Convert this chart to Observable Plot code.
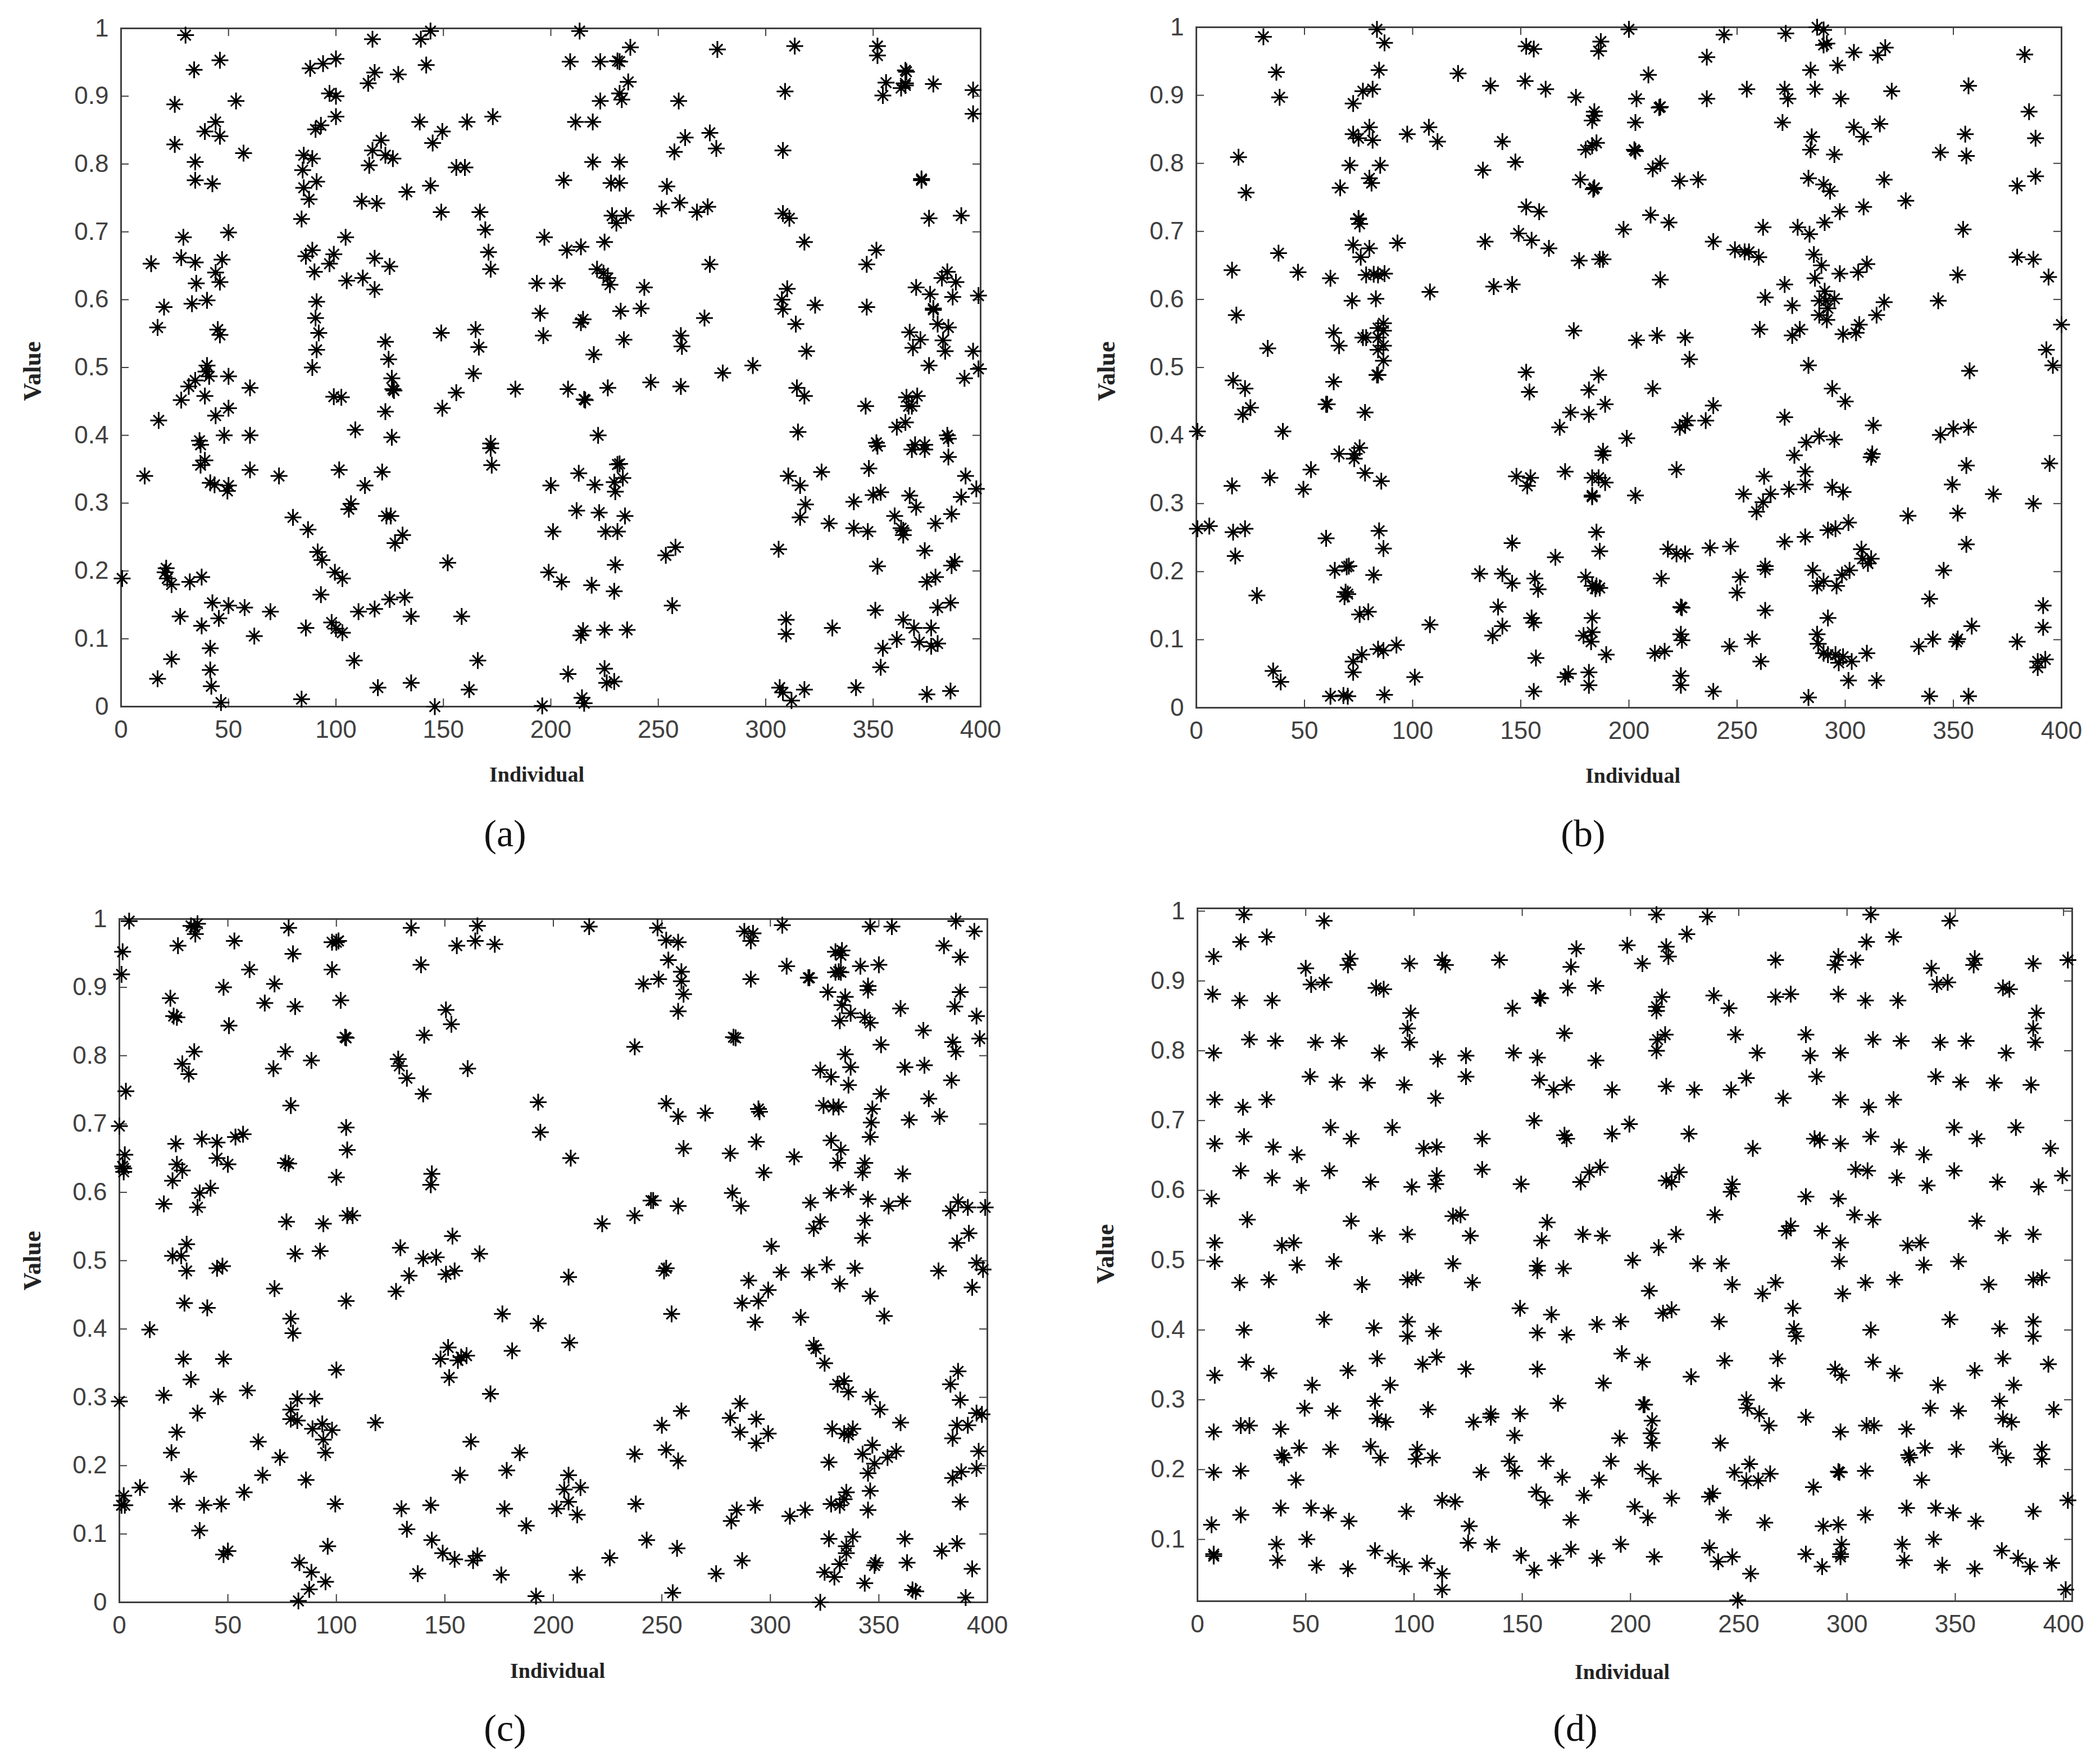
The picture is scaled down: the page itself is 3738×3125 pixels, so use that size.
<!DOCTYPE html>
<html><head><meta charset="utf-8">
<script src="https://cdn.jsdelivr.net/npm/d3@7"></script>
<script src="https://cdn.jsdelivr.net/npm/@observablehq/plot@0.6"></script>
<style>
html,body{margin:0;padding:0;background:#fff}
#page{position:relative;width:3738px;height:3125px;background:#fff;overflow:hidden}
.panel{position:absolute}
.cap{position:absolute;font-family:"Liberation Serif",serif;font-size:68px;color:#111;transform:translate(-50%,-50%);line-height:1}
svg{overflow:visible}
</style></head><body><div id="page"></div>
<script>
const xTicks=[0,50,100,150,200,250,300,350,400];
const yTicks=[0,0.1,0.2,0.3,0.4,0.5,0.6,0.7,0.8,0.9,1];
const yTicksD=[0.1,0.2,0.3,0.4,0.5,0.6,0.7,0.8,0.9,1];
const xLabel="Individual";
const yLabel="Value";
const captions=["(a)","(b)","(c)","(d)"];

const pointsA=[[30,.99],[46,.953],[34,.939],[25,.888],[53.5,.893],[44,.862],[39,.848],[46,.841],[25,.829],[57,.816],[34.5,.803],[34.5,.776],[42.5,.771],[29,.692],[50,.699],[14,.653],[28,.662],[34.5,.655],[47,.659],[44,.64],[46,.626],[35,.624],[20,.589],[33,.594],[40,.599],[17,.559],[45,.556],[46,.548],[40,.503],[39.5,.494],[41,.487],[34.5,.481],[31.5,.472],[50,.487],[60,.47],[39,.458],[28,.452],[50,.44],[44,.429],[17.5,.422],[48,.4],[60,.4],[36.5,.392],
[88,.941],[94,.948],[100,.955],[97,.904],[100,.9],[100,.87],[93,.857],[90.5,.851],[85,.813],[89,.808],[84.5,.791],[91,.774],[85,.765],[87.5,.748],[84,.719],[104.5,.692],[89,.673],[86,.664],[99,.667],[97,.653],[90,.641],[105,.628],[112.5,.632],[118,.615],[118,.661],[125,.649],[91,.597],[90.5,.573],[92,.551],[91,.526],[89,.5],[99,.457],[102.5,.456],[109,.408],
[117,.984],[139.5,.984],[144,.996],[142,.946],[118,.935],[115,.919],[129,.932],[139,.862],[149.5,.848],[145,.831],[161,.862],[173,.87],[121,.835],[117,.82],[123,.813],[126.5,.808],[115.5,.798],[156,.795],[160,.795],[144,.768],[133,.759],[112,.745],[119,.742],[149,.729],[167,.729],[169.5,.703],[171,.67],[172,.645],[149,.551],[165,.556],[166.5,.53],[123,.538],[124.5,.512],[126,.484],[126.5,.468],[127,.466],[123,.435],[149.5,.44],[156,.463],[164,.491],[183.5,.468],[126,.397],[172,.388],[193.5,.624],[203,.624],[195,.58],[196.5,.547],[197,.692],
[213.4,.996],[237,.972],[209,.951],[223,.951],[231,.952],[232,.951],[236,.921],[232,.904],[233,.895],[223,.893],[211.5,.862],[219.5,.862],[219.5,.803],[232,.803],[206,.776],[228,.772],[232,.772],[228.5,.724],[235,.724],[230.5,.713],[207.5,.673],[214,.678],[225,.685],[221.5,.645],[224.5,.639],[226.5,.632],[227.5,.622],[243.5,.618],[232.5,.583],[242,.587],[215,.571],[214,.566],[234,.541],[220,.519],[208,.468],[215.5,.453],[216,.452],[226.5,.47],[246.5,.478],[260.5,.472],[222,.4],[259.5,.893],[262.5,.839],[257.5,.818],[274,.846],[277,.823],[254,.767],[260,.743],[251.5,.734],[268,.729],[273,.737],[277.5,.969],[313.5,.974],[309,.907],[308,.82],[352,.974],[352,.96],[356,.92],[354.5,.901],[365,.938],[365.5,.936],[365,.919],[363,.912],[365,.916],[378,.918],[396.5,.909],[396.5,.874],[372.5,.778],[372.5,.776],[376,.72],[391,.724],[308,.727],[311,.72],[318,.685],[351.5,.673],[347,.652],[274,.652],[384.5,.641],[382,.632],[388.5,.626],[370,.618],[376.5,.608],[387,.604],[399,.606],[310,.616],[307.5,.6],[308,.586],[323,.592],[347,.589],[314,.564],[378,.587],[378,.585],[380,.564],[385,.559],[367,.552],[372,.541],[368.5,.529],[382.5,.54],[383.5,.524],[396.5,.524],[376,.503],[399,.498],[392.5,.484],[271.5,.573],[260.5,.547],[261,.531],[280,.492],[294,.503],[319,.524],[314.5,.47],[318,.458],[346.5,.443],[365.5,.456],[370.5,.458],[368,.443],[366.5,.443],[365,.419],[361,.412],[315,.405],[384.5,.4],[351.5,.389],[369.5,.386],[374,.386],
[37,.386],[39,.363],[37,.356],[60,.349],[11,.34],[73.5,.34],[41.5,.33],[43.5,.327],[50,.326],[49.5,.318],[101.5,.349],[121.5,.346],[113.5,.326],[107,.299],[106,.291],[80,.279],[87,.261],[123.5,.281],[125.5,.281],[131,.253],[127.5,.241],[91.5,.228],[93.5,.216],[99.5,.198],[103,.189],[152,.212],[172,.381],[172.5,.356],[0.5,.189],[21,.204],[20.5,.198],[21.5,.189],[23.5,.18],[32,.184],[37.5,.191],[93,.165],[42.5,.153],[50,.149],[57.5,.146],[69.5,.14],[27.5,.133],[45.5,.13],[37.5,.119],[62,.104],[86,.116],[98,.124],[100,.115],[103,.109],[110.5,.14],[118,.144],[125,.158],[132,.161],[135,.133],[158.5,.133],[41.5,.086],[23.5,.07],[108.5,.068],[166,.068],[41.5,.054],[17,.041],[42,.03],[46.5,.006],[84,.011],[119.5,.028],[135,.035],[162,.025],[146,0],
[200,.326],[213,.344],[220.5,.327],[232,.358],[231,.357],[233.5,.337],[229.5,.331],[230,.317],[212,.289],[222.5,.286],[234.5,.281],[201,.258],[225.5,.258],[231,.258],[230,.209],[199,.198],[205,.184],[219,.179],[229.5,.17],[256.5,.149],[258,.235],[253.5,.223],[306,.232],[215,.112],[214,.105],[225,.113],[235.5,.113],[208,.048],[225,.056],[226,.035],[229.5,.037],[214.5,.013],[215.5,.005],[196,.001],[310.5,.34],[326,.346],[316,.326],[318.5,.298],[316,.279],[329.5,.27],[348,.351],[352,.384],[368,.379],[374,.379],[385,.395],[385,.368],[393,.34],[398,.321],[391,.309],[386.5,.284],[379,.27],[360,.281],[353.5,.316],[350,.312],[341,.302],[367,.311],[370,.294],[341,.263],[347.5,.258],[363,.263],[364,.26],[364,.253],[374,.23],[388,.214],[386.5,.208],[352,.207],[379,.191],[375,.184],[351,.142],[386,.153],[380,.146],[364,.128],[369,.116],[377,.116],[331,.116],[309.5,.128],[309.5,.107],[361,.099],[371.5,.095],[377,.089],[380,.093],[354.5,.086],[353.5,.058],[306.5,.028],[308,.021],[318,.025],[312,.009],[342,.028],[375,.018],[386,.023]];

const pointsB=[[31,.986],[83.5,.997],[87,.977],[152.5,.972],[156,.968],[187,.979],[186,.965],[200,.997],[244,.989],[272.5,.991],[287,1],[290,.996],[291.5,.976],[290,.974],[304,.963],[318.5,.97],[315,.959],[236,.956],[383,.96],[296.5,.944],[284,.937],[37,.934],[84.5,.937],[121,.932],[209,.93],[152,.921],[136,.914],[161.5,.909],[77,.906],[81.5,.909],[254.5,.909],[272,.909],[286,.909],[321.5,.906],[357,.914],[38.5,.897],[72.5,.888],[175.5,.897],[203.5,.895],[236,.895],[273.5,.895],[298,.895],[214.5,.883],[214,.882],[385,.876],[184,.876],[184,.87],[183,.863],[203,.86],[271,.86],[316,.858],[304,.853],[80,.853],[107.5,.853],[72.5,.843],[97.5,.843],[355.5,.843],[308.5,.839],[284.5,.839],[388,.837],[75,.837],[81.5,.834],[111.5,.832],[141.5,.832],[185,.83],[183,.826],[180,.82],[202.5,.82],[203,.818],[284,.82],[295,.813],[344,.816],[356,.811],[19.5,.809],[147.5,.802],[214.5,.8],[71,.797],[85,.797],[211,.792],[132.5,.79],[80,.778],[177.5,.776],[283,.778],[388,.781],[318,.776],[81,.771],[223.5,.774],[232,.776],[290,.769],[379.5,.767],[66.5,.764],[184,.764],[183.5,.762],[23,.757],[293,.759],[328,.745],[152.5,.736],[308.5,.736],[158.5,.729],[297.5,.729],[210,.724],[75,.719],[75,.718],[75.5,.711],[218.5,.713],[290.5,.713],[197.5,.703],[262,.706],[278,.706],[354.5,.703],[283.5,.696],[149,.697],[155,.687],[133.5,.685],[239,.685],[93,.683],[72.5,.68],[80,.675],[163,.675],[249,.673],[253.5,.67],[255.5,.67],[38,.668],[260,.662],[285.5,.666],[76,.662],[177,.657],[186.5,.659],[188,.659],[379.5,.662],[387,.659],[289,.65],[310,.652],[16.5,.643],[47,.64],[306,.64],[297.5,.638],[78.5,.636],[82,.637],[87,.638],[84,.636],[62,.631],[352,.636],[286,.631],[394,.633],[214.5,.629],[272,.622],[146,.622],[137.5,.619],[108,.611],[263,.603],[290.5,.612],[72,.598],[83,.601],[288,.598],[295,.601],[291,.598],[318,.596],[343,.598],[275.5,.591],[292,.587],[18.5,.577],[288,.577],[314.5,.577],[291.5,.57],[86.5,.565],[400,.563],[306.5,.563],[84,.558],[86.5,.554],[63.5,.551],[174.5,.554],[260.5,.556],[279,.556],[77,.544],[78.5,.544],[84,.544],[213,.547],[226,.544],[275.5,.547],[299,.549],[305,.551],[203.5,.54],[66,.532],[86.5,.532],[33,.528],[84,.526],[393,.526],[86.5,.51],[228,.512],[283,.503],[396,.503],[357.5,.495],[84,.489],[152.5,.493],[186,.489],
[17,.481],[22.5,.469],[63.5,.479],[83.5,.489],[154,.464],[181.5,.467],[211,.469],[294,.469],[300,.45],[60.5,.446],[60,.446],[25,.441],[21.5,.431],[78,.434],[189,.446],[239,.444],[173,.434],[181.5,.431],[272,.427],[227,.422],[235.5,.422],[223.5,.412],[226,.415],[168,.412],[313,.415],[.5,.406],[40,.406],[344,.401],[350,.41],[357,.412],[199,.396],[288,.399],[295,.394],[282,.39],[75.5,.382],[188,.377],[188,.371],[66,.373],[73,.373],[73,.366],[276.5,.371],[312.5,.373],[312,.368],[170.5,.347],[222,.35],[53,.35],[356,.356],[394.5,.359],[78,.345],[281.5,.347],[148,.34],[154.5,.338],[183,.338],[186,.338],[189,.331],[34,.338],[85.5,.333],[262.5,.34],[153,.326],[16.5,.326],[349.5,.328],[294,.324],[281.5,.328],[49.5,.321],[274,.321],[299,.317],[183,.312],[183,.31],[203,.312],[253,.314],[265.5,.314],[368.5,.314],[387,.3],[262,.302],[259,.288],[352,.286],[329,.282],[6,.267],[.5,.263],[22.5,.263],[17,.258],[301.5,.272],[295.5,.263],[292,.261],[185,.258],[84.5,.26],[281.5,.251],[60,.249],[272,.244],[356,.24],[146,.242],[86.5,.234],[186.5,.23],[218,.233],[237.5,.235],[247,.237],[222,.226],[226,.226],[307.5,.233],[308,.219],[312,.219],[18,.223],[166,.221],[310.5,.212],[263,.208],[263,.203],[70.5,.208],[69.5,.207],[64,.202],[131,.197],[141.5,.197],[285,.202],[302,.202],[345.5,.202],[82,.195],[298.5,.195],[180,.192],[156.5,.19],[215,.19],[251.5,.192],[290,.186],[146,.183],[183,.179],[185,.179],[184.5,.175],[186.5,.176],[287,.179],[296,.179],[158,.174],[69,.17],[70,.167],[68.5,.163],[250,.169],[28,.165],[339,.16],[139.5,.148],[224,.148],[224.5,.147],[391.5,.15],[263,.143],[79.5,.141],[75.5,.137],[155,.132],[156,.125],[183,.132],[292,.132],[108,.122],[141.5,.12],[358.5,.12],[391.5,.118],[183,.111],[179,.106],[287,.108],[224,.108],[137,.106],[257,.101],[340.5,.101],[352,.101],[351.5,.097],[224.5,.099],[182.5,.097],[379.5,.097],[246.5,.09],[334,.09],[287.5,.094],[92.5,.092],[84,.086],[86.5,.084],[76.5,.078],[72.5,.068],[290,.08],[292,.078],[295.5,.078],[299,.075],[310,.08],[189.5,.078],[212,.08],[216.5,.083],[157,.073],[303,.068],[297,.066],[261,.068],[389,.068],[392.5,.071],[389,.059],[35.5,.054],[72.5,.052],[39,.038],[101,.045],[172,.05],[170.5,.045],[181.5,.052],[224,.047],[224,.033],[181.5,.033],[301.5,.04],[314.5,.04],[156,.024],[239,.024],[62,.017],[68,.018],[70,.017],[87,.019],[283,.015],[339,.017],[357,.017]];

const pointsC=[[4.5,.997],[33,.99],[36,.993],[34.5,.988],[35,.978],[78,.987],[134.5,.987],[165,.99],[216.5,.989],[248,.987],[305.5,.991],[346,.989],[356,.989],[385.5,.997],[394,.982],[288,.982],[292,.979],[291,.968],[53,.968],[98,.966],[101,.968],[100,.966],[27,.961],[164,.968],[155.5,.961],[173,.963],[252,.969],[257.5,.966],[380,.961],[1.5,.952],[80,.949],[330,.952],[333,.954],[332.5,.947],[387.5,.944],[253,.94],[139,.933],[307.5,.931],[341.5,.931],[350,.933],[60,.926],[98,.926],[259,.923],[331.5,.923],[332.5,.922],[330,.922],[1,.919],[317.5,.914],[318,.914],[248.5,.912],[259,.909],[291,.912],[241.5,.905],[71.5,.905],[48,.9],[345,.902],[345,.896],[326.5,.893],[387.5,.893],[260,.89],[334.5,.886],[23.5,.884],[102,.881],[67,.877],[81,.872],[333,.874],[360,.869],[385,.872],[150.5,.867],[257.5,.865],[337,.862],[343.5,.856],[25,.858],[26.5,.856],[395,.858],[332,.851],[346,.848],[153,.846],[50.5,.844],[370.5,.837],[140.5,.83],[104,.827],[104.5,.826],[283,.827],[284,.826],[396.5,.825],[384,.82],[351,.816],[237.5,.813],[34.5,.806],[76.5,.806],[385.5,.806],[334.5,.802],[88.5,.793],[128.5,.795],[129,.785],[29,.788],[371,.786],[362,.783],[337,.783],[71,.781],[160.5,.781],[323,.779],[32,.773],[328,.769],[132.5,.767],[383.5,.764],[336,.757],[3,.748],[140,.744],[351,.744],[373,.737],[193,.732],[252,.73],[79,.727],[324.5,.727],[329,.725],[331.5,.725],[294.5,.722],[295,.718],[347,.722],[270,.716],[257.5,.711],[378,.711],[364,.706],[346.5,.702],[0,.697],[104.5,.695],[194,.688],[57,.685],[53.5,.681],[38,.678],[45,.673],[26,.671],[346,.681],[328,.676],[293.5,.674],[260,.664],[105,.662],[332.5,.662],[281.5,.657],[2.5,.655],[45,.65],[208,.65],[311,.652],[1.5,.638],[2,.63],[2,.635],[26.5,.641],[50,.641],[76.5,.643],[78,.642],[331,.643],[343.5,.643],[29,.632],[342.5,.629],[297,.629],[361,.627],[144,.627],[100,.622],[24.5,.617],[143.5,.611],[42,.606],[336,.604],[37,.599],[282.5,.599],[328,.599],[245,.588],[246,.588],[345,.59],[361,.587],[386.5,.586],[20.5,.583],[318.5,.585],[257.5,.58],[286.5,.58],[36,.578],[354.5,.58],[391,.578],[399,.578],[383,.573],[237.5,.566],[105,.566],[107.5,.566],[77,.557],[94,.554],[222.5,.554],[323,.557],[343.5,.559],[320,.547],[391.5,.54],[153.5,.536],[342.5,.533],[386,.526],[31,.524],[129.5,.519],[300.5,.521],[24.5,.507],[28.5,.507],[81,.51],[92.5,.514],[140,.503],[146,.505],[166,.51],
[31,.485],[45,.489],[47.5,.492],[133.5,.478],[150.5,.48],[154.5,.485],[252,.489],[251,.485],[305,.483],[318,.483],[326,.494],[339,.489],[377.5,.485],[395,.497],[398,.487],[207,.476],[290,.471],[332,.466],[393,.461],[71.5,.459],[127.5,.455],[299,.457],[346,.448],[30,.438],[104.5,.441],[287,.438],[294.5,.441],[40.5,.431],[176.5,.422],[254.5,.422],[314,.417],[352.5,.419],[79,.415],[293,.41],[193,.408],[14,.399],[80,.394],[207.5,.38],[320,.376],[321,.371],[151.5,.373],[181,.368],[160,.361],[157.5,.359],[156,.354],[29.5,.356],[48,.356],[148,.356],[325,.35],[100,.34],[386.5,.338],[152,.329],[33,.326],[334,.324],[331,.319],[383,.319],[336,.308],[59,.31],[171,.305],[20.5,.303],[45.5,.301],[346,.301],[82,.298],[90,.298],[0,.294],[286,.291],[387.5,.296],[79,.282],[259,.28],[350.5,.282],[36,.277],[395,.277],[397.5,.275],[281.5,.27],[79,.268],[82,.266],[293.5,.268],[118,.263],[360,.263],[93.5,.261],[250,.259],[386,.259],[391,.259],[89,.254],[328.5,.254],[338,.254],[98,.252],[26.5,.249],[286,.249],[299,.247],[334,.247],[336,.245],[384,.24],[94,.238],[64,.235],[162,.235],[293.5,.233],[347,.23],[252,.223],[358,.221],[396,.221],[24,.219],[95,.219],[184.5,.219],[237.5,.217],[342.5,.217],[354,.212],[74,.212],[257.5,.207],[327,.205],[348,.203],[178.5,.193],[395,.196],[388,.191],[66,.186],[157,.186],[207,.186],[32,.184],[345,.189],[384,.182],[86,.179],[9.5,.168],[212.5,.168],[205,.165],[346,.163],[57.5,.161],[335,.161],[2,.156],[334,.151],[207,.147],[26.5,.144],[47,.144],[99.5,.144],[238,.144],[293,.142],[328,.144],[332,.142],[387.5,.147],[1,.142],[2.5,.142],[39,.142],[143.5,.142],[130,.137],[177.5,.137],[201.5,.137],[284.5,.135],[316,.135],[345,.135],[211,.128],[309,.126],[282,.119],[187.5,.112],[37,.105],[132.5,.107],[338,.096],[327,.093],[362,.093],[243,.091],[144,.091],[386,.086],[96,.082],[335,.082],[257,.079],[50,.075],[48,.07],[379,.075],[335,.072],[149,.072],[165,.068],[154.5,.063],[163,.061],[226,.065],[287,.061],[83,.058],[332,.056],[348.5,.058],[348,.054],[363,.058],[88.5,.044],[137.5,.042],[176,.04],[211,.04],[275,.042],[325,.044],[393,.049],[329.5,.037],[95,.03],[343.5,.028],[87.5,.019],[367,.016],[365.5,.018],[255,.014],[192,.009],[390,.007],[82.5,.002],[323,0]];

const pointsD=[[21.5,.995],[58.5,.986],[212,.995],[235.5,.992],[311,.995],[347.5,.986],[226,.967],[32,.963],[20,.956],[321.5,.963],[309,.956],[198.5,.951],[216.5,.949],[175,.946],[7.5,.935],[217.5,.935],[70.5,.932],[69.5,.923],[50,.918],[98,.925],[113,.93],[114.5,.923],[139.5,.93],[172.5,.92],[205.5,.925],[267,.93],[296,.935],[294.5,.923],[304,.93],[339,.918],[359,.932],[358.5,.923],[386,.925],[402,.93],[52.5,.895],[58.5,.898],[82.5,.89],[86,.888],[171,.89],[184,.893],[341.5,.895],[346.5,.898],[372,.89],[375,.888],[7,.881],[19.5,.872],[34.5,.872],[158,.876],[158.5,.875],[214.5,.877],[238.5,.879],[267,.877],[274,.881],[296,.881],[308.5,.872],[323.5,.872],[212,.863],[212,.857],[145.5,.861],[245.5,.861],[98.5,.854],[387.5,.854],[97,.832],[386,.832],[169.5,.825],[216,.823],[248.5,.823],[281,.823],[212.5,.816],[24,.816],[36,.814],[54.5,.812],[65.5,.814],[98,.812],[312,.816],[325,.814],[343,.812],[355,.814],[387,.812],[7.5,.797],[84,.797],[146,.797],[212,.8],[258.5,.797],[297,.797],[373.5,.797],[111,.788],[124,.793],[157,.79],[283,.793],[184,.786],[52,.763],[124,.763],[286,.763],[341,.763],[253.5,.761],[158,.758],[64.5,.755],[78.5,.754],[95.5,.751],[170.5,.751],[216.5,.749],[352.5,.755],[368,.754],[385,.751],[164.5,.744],[191.5,.744],[229.5,.744],[246.5,.744],[110,.732],[270.5,.732],[8,.73],[32,.73],[297,.73],[321.5,.73],[21,.719],[310,.719],[155.5,.7],[199.5,.695],[61.5,.69],[90,.69],[349.5,.69],[378,.69],[21.5,.677],[169.5,.679],[191.5,.681],[227,.681],[71,.674],[131.5,.674],[170.5,.674],[285,.674],[287.5,.672],[311,.677],[360,.674],[8,.667],[297,.667],[35,.662],[104.5,.66],[110.5,.662],[324,.662],[256.5,.66],[394,.66],[46,.651],[335.5,.651],[20,.628],[61,.628],[131.5,.63],[186,.633],[181,.626],[222.5,.626],[304,.63],[309.5,.628],[349.5,.628],[34.5,.618],[110.5,.621],[323,.618],[399.5,.621],[216.5,.614],[219,.612],[80,.612],[110,.609],[149.5,.609],[177,.612],[369.5,.612],[247,.609],[48,.607],[99,.605],[337,.607],[388.5,.605],[246.5,.598],[6.5,.588],[281,.591],[296,.588],[239,.565],[303.5,.565],[118,.563],[121.5,.565],[23,.558],[71,.556],[312,.558],[360,.556],[161.5,.554],[274,.549],[272,.542],[288.5,.542],[83,.535],[97,.537],[126,.535],[178,.537],[187,.535],[221,.537],[372,.535],[386,.537],[8,.525],[159,.528],[44.5,.525],[297,.525],[334,.525],[39,.521],[328,.521],[213,.518],
[8,.498],[46,.493],[63,.498],[118,.495],[157,.492],[157,.485],[169,.488],[201,.5],[231,.495],[242,.495],[296.5,.498],[335.5,.493],[351.5,.498],[19.5,.468],[33,.472],[76,.465],[97,.472],[101,.475],[127,.468],[247,.465],[267,.468],[308.5,.468],[322,.472],[365.5,.465],[386,.472],[390,.475],[208.7,.456],[261,.452],[298,.452],[149,.431],[275,.431],[219,.429],[215,.424],[163.5,.422],[58.5,.415],[97,.412],[195.5,.412],[241,.412],[347.5,.415],[386,.412],[184.5,.408],[81.5,.403],[21.5,.4],[275.5,.402],[311,.4],[370.5,.402],[109,.398],[157,.396],[170.5,.393],[97,.391],[276.5,.391],[386,.391],[110.5,.361],[196,.366],[83,.359],[268,.359],[372,.359],[243.5,.356],[22.5,.354],[205.5,.354],[312,.354],[104,.351],[393,.351],[69.5,.342],[124,.344],[157,.344],[294.5,.344],[359,.342],[33,.338],[322,.338],[8,.335],[297.5,.335],[228,.333],[187.5,.324],[267.5,.324],[53,.321],[89,.321],[342,.321],[377,.321],[82,.298],[253.5,.3],[370.5,.298],[166.5,.295],[206,.293],[206.5,.293],[49.5,.288],[254,.288],[338.5,.288],[106.5,.286],[62.5,.284],[351.5,.284],[395.5,.286],[259.5,.28],[149,.28],[135.5,.28],[135.5,.275],[281,.275],[83,.273],[210,.27],[372,.273],[87,.268],[376,.268],[127.5,.268],[264,.263],[20,.263],[24,.263],[309,.263],[312.5,.263],[7.5,.254],[38.5,.258],[327.5,.258],[297,.254],[146.5,.249],[209.5,.252],[195,.245],[210,.238],[241.5,.238],[80,.233],[369.5,.233],[47,.231],[61.5,.229],[101.5,.229],[336,.231],[350.5,.229],[390,.229],[39,.221],[40,.217],[84.5,.217],[108.5,.217],[328.5,.221],[329,.217],[373.5,.217],[101,.215],[390,.215],[144,.212],[161,.212],[191,.212],[255,.208],[205.5,.201],[146.5,.198],[20,.198],[308.5,.198],[7.5,.196],[131,.196],[248,.196],[264.5,.194],[296,.197],[296.5,.196],[168.5,.189],[210.5,.187],[185.5,.185],[45.5,.185],[334.5,.185],[253.5,.184],[259,.184],[284.5,.175],[156.5,.168],[178.5,.163],[238,.166],[236.5,.161],[219,.159],[113,.156],[119,.154],[160.5,.156],[402,.156],[202,.147],[38.5,.145],[52.5,.145],[327.5,.145],[341,.145],[60.5,.138],[96.5,.14],[349,.138],[386,.14],[20,.135],[243,.135],[308.5,.135],[70,.126],[172.5,.128],[208,.131],[359.5,.126],[262,.124],[6.5,.121],[125.5,.119],[289,.119],[296,.121],[50.5,.1],[340,.1],[125,.095],[195.5,.093],[36.5,.093],[136,.093],[297.5,.093],[325.5,.093],[172.5,.086],[236.5,.088],[82,.084],[371.5,.084],[7.5,.079],[7.5,.076],[149.5,.077],[90,.073],[165.5,.07],[184.5,.073],[211,.075],[247,.075],[281,.079],[297,.079],[297,.075],[379,.073],[37,.07],[326.5,.07],[240.5,.068],[55,.063],[106,.066],[344,.063],[394.5,.066],[95.5,.061],[288.5,.061],[384.5,.061],[69.5,.058],[359,.058],[155.5,.056],[113,.051],[255.5,.051],[113,.028],[401,.028],[249.5,.013]];

const asterisk={draw(c,size){
  const r=Math.sqrt(size/Math.PI),d=r*0.62;
  c.moveTo(0,-r);c.lineTo(0,r);
  c.moveTo(-r,0);c.lineTo(r,0);
  c.moveTo(-d,-d);c.lineTo(d,d);
  c.moveTo(-d,d);c.lineTo(d,-d);
}};

const INK="#404040";
const LABEL_FONT="'Liberation Serif',serif";
const panels=[
 {pts:pointsA,L:215,R:1745,T:50,B:1257,xd:[0,400],yd:[0,1],yt:yTicks,lx:955,ly:1378,vx:57,vy:660,cx:899,cy:1483},
 {pts:pointsB,L:2129,R:3669,T:48,B:1259,xd:[0,400],yd:[0,1],yt:yTicks,lx:2906,ly:1380,vx:1969,vy:660,cx:2818,cy:1483},
 {pts:pointsC,L:212,R:1757,T:1635,B:2851,xd:[0,400],yd:[0,1],yt:yTicks,lx:992,ly:2973,vx:57,vy:2243,cx:899,cy:3075},
 {pts:pointsD,L:2131,R:3688,T:1616,B:2849,xd:[0,404],yd:[0.0115,1.004],yt:yTicksD,lx:2887,ly:2975,vx:1967,vy:2231,cx:2804,cy:3075}
];
const page=document.getElementById("page");
const mL=190,mT=40,mR=50,mB=160,tick=14;
panels.forEach((p,i)=>{
  const w=p.R-p.L,h=p.B-p.T;
  const fig=Plot.plot({
    width:w+mL+mR,height:h+mT+mB,
    marginLeft:mL,marginRight:mR,marginTop:mT,marginBottom:mB,
    style:{background:"transparent",fontFamily:"'Liberation Sans',Arial,sans-serif",fontSize:"44px",overflow:"visible"},
    x:{domain:p.xd},y:{domain:p.yd},
    marks:[
      Plot.frame({stroke:INK,strokeWidth:3}),
      Plot.tickX(xTicks,{x:d=>d,stroke:INK,strokeWidth:2,insetTop:h-tick}),
      Plot.tickX(xTicks,{x:d=>d,stroke:INK,strokeWidth:2,insetBottom:h-tick}),
      Plot.tickY(p.yt,{y:d=>d,stroke:INK,strokeWidth:2,insetRight:w-tick}),
      Plot.tickY(p.yt,{y:d=>d,stroke:INK,strokeWidth:2,insetLeft:w-tick}),
      Plot.axisX({ticks:xTicks,tickSize:0,tickPadding:24,label:null,tickFormat:d=>String(d),fill:INK,fontSize:44}),
      Plot.axisY({ticks:p.yt,tickSize:0,tickPadding:22,label:null,tickFormat:d=>String(d),fill:INK,fontSize:44}),
      Plot.dot(p.pts,{x:d=>d[0],y:d=>d[1],symbol:asterisk,r:15,fill:"none",stroke:"#000",strokeWidth:3}),
      Plot.text([xLabel],{frameAnchor:"bottom",lineAnchor:"middle",textAnchor:"middle",dx:p.lx-(p.L+p.R)/2,dy:p.ly-p.B,text:d=>d,fontFamily:LABEL_FONT,fontWeight:"bold",fontSize:38,fill:"#222"}),
      Plot.text([yLabel],{frameAnchor:"left",lineAnchor:"middle",textAnchor:"middle",dx:p.vx-p.L,dy:p.vy-(p.T+p.B)/2,rotate:-90,text:d=>d,fontFamily:LABEL_FONT,fontWeight:"bold",fontSize:44,fill:"#222"})
    ]
  });
  fig.classList.add("panel");
  fig.style.left=(p.L-mL)+"px";fig.style.top=(p.T-mT)+"px";
  page.appendChild(fig);
  const c=document.createElement("div");c.className="cap";c.textContent=captions[i];
  c.style.left=p.cx+"px";c.style.top=p.cy+"px";page.appendChild(c);
});
</script></body></html>
